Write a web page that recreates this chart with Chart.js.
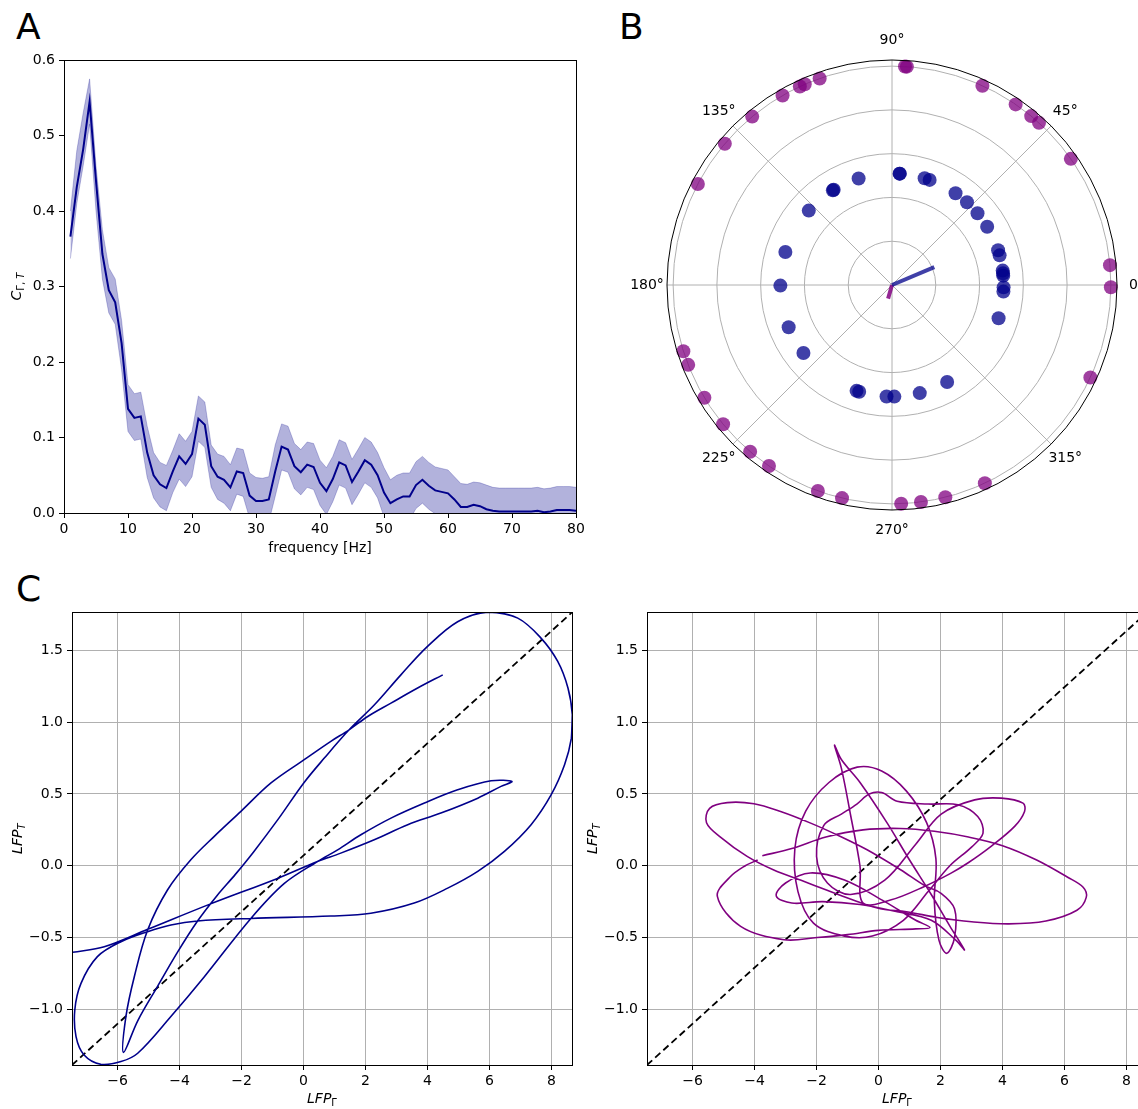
<!DOCTYPE html>
<html>
<head>
<meta charset="utf-8">
<script src="https://cdn.jsdelivr.net/npm/chart.js@4.4.1/dist/chart.umd.min.js"></script>
<style>
  html, body { margin: 0; padding: 0; background: #fff; overflow: hidden; width: 1138px; height: 1109px; }
  .panel { position: absolute; }
  .letter { position: absolute; font-family: "DejaVu Sans", sans-serif; font-size: 36px; line-height: 1; color: #000; }
</style>
</head>
<body>
<div class="letter" style="left:16px; top:9px;">A</div>
<div class="letter" style="left:619px; top:9px;">B</div>
<div class="letter" style="left:16px; top:571px;">C</div>

<canvas id="cohChart" class="panel" width="600" height="570" style="left:0; top:0;"></canvas>
<canvas id="phaseChart" class="panel" width="518" height="540" style="left:620px; top:20px;"></canvas>
<canvas id="lfpLeftChart" class="panel" width="580" height="509" style="left:0; top:600px;"></canvas>
<canvas id="lfpRightChart" class="panel" width="580" height="509" style="left:575px; top:600px;"></canvas>

<script>
// ---- Panel A: coherence spectrum ----
const freqHz = [1,2,3,4,5,6,7,8,9,10,11,12,13,14,15,16,17,18,19,20,
  21,22,23,24,25,26,27,28,29,30,31,32,33,34,35,36,37,38,39,40,
  41,42,43,44,45,46,47,48,49,50,51,52,53,54,55,56,57,58,59,60,
  61,62,63,64,65,66,67,68,69,70,71,72,73,74,75,76,77,78,79,80];
const cohMean = [0.366,0.432,0.482,0.545,0.44,0.343,0.295,0.279,0.225,0.138,
  0.126,0.128,0.08,0.05,0.038,0.033,0.055,0.075,0.065,0.078,
  0.125,0.117,0.062,0.048,0.044,0.034,0.055,0.053,0.023,0.016,
  0.016,0.018,0.055,0.088,0.084,0.062,0.054,0.064,0.061,0.04,
  0.029,0.045,0.067,0.063,0.041,0.055,0.07,0.064,0.05,0.027,
  0.013,0.018,0.022,0.022,0.037,0.044,0.036,0.03,0.028,0.026,
  0.018,0.008,0.008,0.011,0.009,0.005,0.003,0.002,0.002,0.002,
  0.002,0.002,0.002,0.003,0.001,0.002,0.004,0.004,0.004,0.003];
const cohUpper = [0.40,0.48,0.53,0.575,0.46,0.375,0.325,0.31,0.255,0.17,
  0.158,0.16,0.115,0.08,0.067,0.063,0.083,0.105,0.095,0.108,
  0.155,0.147,0.09,0.078,0.075,0.064,0.086,0.084,0.053,0.047,
  0.046,0.048,0.09,0.118,0.115,0.092,0.084,0.094,0.092,0.07,
  0.06,0.075,0.097,0.093,0.071,0.085,0.1,0.094,0.08,0.06,
  0.044,0.05,0.053,0.053,0.068,0.075,0.067,0.061,0.059,0.057,
  0.048,0.039,0.038,0.041,0.04,0.037,0.034,0.033,0.033,0.033,
  0.033,0.033,0.033,0.034,0.032,0.033,0.035,0.035,0.035,0.034];
const cohLower = [0.337,0.41,0.46,0.515,0.40,0.31,0.265,0.25,0.19,0.108,
  0.096,0.098,0.047,0.02,0.008,0.003,0.027,0.045,0.035,0.048,
  0.095,0.087,0.034,0.018,0.013,0.003,0.025,0.022,-0.007,-0.015,
  -0.015,-0.012,0.022,0.057,0.054,0.032,0.024,0.034,0.031,0.01,
  -0.002,0.015,0.037,0.033,0.011,0.025,0.04,0.034,0.02,-0.005,
  -0.018,-0.013,-0.009,-0.009,0.006,0.013,0.005,-0.001,-0.003,-0.005,
  -0.012,-0.022,-0.022,-0.019,-0.022,-0.027,-0.028,-0.03,-0.03,-0.03,
  -0.03,-0.03,-0.03,-0.03,-0.03,-0.03,-0.03,-0.03,-0.03,-0.03];

// ---- Panel B: phase angles (degrees) and radii ----
const blueAngles = [86.1,86,73,70.3,55.3,47.8,40,31.5,18.1,15.4,7.4,6,4.8,-1.2,-3.4,
  -17.3,-60.4,-75.6,-88.8,-92.8,-107.1,-108.5,-142.5,-157.8,180.3,162.8,138.2,122,121.5,107.4];
const blueRadius = 0.51;
const purpleAngles = [86.1,86.6,65.6,55.6,50.5,47.8,35.2,5.2,-0.6,-25,-64.9,-75.9,-82.4,-87.6,
  -103.2,-109.8,-124.2,-130.4,-140.5,-149,-158.6,-162.4,152.5,139.8,129.7,120,114.9,113.5,109.3];
const purpleRadius = 1.0;
const meanAngles = [23, 254];
const meanLengths = [0.21, 0.065];
const polarRings = [0.2, 0.4, 0.6, 0.8, 1.0];
const polarRmax = 1.028;
const polarSpokes = [0, 45, 90, 135, 180, 225, 270, 315];

// ---- Panel C: LFP trajectories ----
const lfpLimX = [-7.47, 8.66];
const lfpLimY = [-1.388, 1.765];
const gammaLeft = [-7.45,-6.43,-5.03,-3.04,-0.84,0.45,1.2,2.28,3.36,4.43,5.62,6.37,6.72,6.05,4.97,3.9,2.82,1.85,1.1,0.45,
  -0.62,-1.7,-3.2,-4.28,-5.35,-5.89,-6.54,-7.08,-7.34,-7.38,-7.18,-6.65,-5.89,-5.03,-4.28,-3.42,-1.7,0.88,2.17,3.57,
  4.65,5.62,6.48,7.34,7.99,8.42,8.64,8.67,8.53,8.2,7.66,6.91,5.94,4.97,4.0,3.14,2.28,1.47,0.67,0.0,
  -0.8,-1.6,-2.2,-2.8,-3.42,-4.06,-4.71,-5.35,-5.81,-5.73,-5.46,-5.03,-4.39,-3.63,-2.88,-2.02,-1.05,0.02,0.88,1.47,
  2.07,2.82,3.68,4.49];
const thetaLeft = [-0.603,-0.564,-0.443,-0.269,-0.088,0.03,0.088,0.181,0.286,0.367,0.471,0.553,0.587,0.592,0.529,0.437,0.332,0.216,0.111,0.03,
  -0.123,-0.367,-0.773,-1.05,-1.306,-1.364,-1.383,-1.318,-1.19,-1.005,-0.819,-0.633,-0.529,-0.459,-0.413,-0.385,-0.367,-0.35,-0.331,-0.26,
  -0.156,-0.039,0.1,0.286,0.495,0.703,0.889,1.052,1.238,1.423,1.586,1.725,1.767,1.70,1.528,1.33,1.12,0.947,0.75,0.575,
  0.33,0.1,-0.06,-0.21,-0.385,-0.6,-0.84,-1.08,-1.30,-1.05,-0.773,-0.448,-0.169,0.043,0.205,0.379,0.577,0.739,0.867,0.947,
  1.04,1.133,1.238,1.33];
const gammaRight = [-3.75,-2.8,-1.7,-0.5,0.7,1.8,2.9,4.0,5.1,6.1,6.6,6.7,6.4,5.4,4.2,3.0,1.9,0.9,0.06,-0.8,
  -1.66,-2.52,-3.38,-4.24,-5.1,-5.55,-5.45,-4.88,-4.02,-3.16,-2.19,-1.23,-0.37,0.71,1.5,2.0,2.45,2.45,2.2,1.95,
  1.8,1.85,1.55,0.9,0.1,-0.69,-1.6,-2.35,-2.7,-2.6,-2.1,-1.1,-0.2,0.8,1.6,2.3,3.0,3.37,3.2,2.56,
  1.6,0.6,0.1,-0.3,-0.7,-1.2,-1.77,-2.0,-1.65,-0.9,0.2,1.2,2.02,3.1,3.96,4.66,4.71,4.39,3.63,2.88,
  2.34,1.48,0.41,-0.5,-0.6,-0.9,-1.2,-1.42,-1.2,-0.58,0.28,1.0,1.7,2.3,2.77,2.5,1.7,0.6,-0.6,-1.8,
  -2.8,-3.3,-3.0,-2.2,-1.1,0.2,1.2,1.66,1.2,0.0,-1.0,-1.98,-3.05,-4.45,-5.2,-4.8,-4.3,-3.9];
const thetaRight = [0.07,0.12,0.2,0.25,0.26,0.24,0.2,0.14,0.04,-0.08,-0.15,-0.22,-0.31,-0.385,-0.405,-0.39,-0.36,-0.32,-0.3,-0.24,
  -0.17,-0.1,-0.03,0.065,0.2,0.3,0.4,0.44,0.432,0.378,0.297,0.204,0.111,-0.028,-0.14,-0.19,-0.3,-0.5,-0.61,-0.52,
  -0.25,0.05,0.3,0.52,0.66,0.687,0.58,0.38,0.12,-0.18,-0.4,-0.49,-0.49,-0.38,-0.18,0.0,0.13,0.227,0.343,0.425,
  0.43,0.45,0.51,0.5,0.43,0.36,0.28,0.064,-0.12,-0.2,-0.1,0.15,0.36,0.459,0.471,0.436,0.378,0.274,0.135,0.019,
  -0.051,-0.144,-0.237,-0.26,0.0,0.35,0.68,0.84,0.74,0.575,0.297,0.04,-0.2,-0.42,-0.586,-0.52,-0.38,-0.32,-0.27,-0.25,
  -0.26,-0.21,-0.12,-0.05,-0.1,-0.25,-0.38,-0.43,-0.44,-0.45,-0.48,-0.5,-0.515,-0.422,-0.213,-0.08,0.0,0.04];

// ---- shared look ----
const FONT = '"DejaVu Sans", sans-serif';
Chart.defaults.font.family = FONT;
Chart.defaults.font.size = 14;
Chart.defaults.color = '#000';
Chart.defaults.animation = false;

const minus = s => String(s).replace('-', '\u2212');
const pts = (xs, ys) => xs.map((x, i) => ({ x: x, y: ys[i] }));

// draws mathtext-ish label: parts = [{t, italic, sub}]
function drawParts(ctx, parts, cx, cy, rotate) {
  ctx.save();
  ctx.translate(cx, cy);
  if (rotate) ctx.rotate(-Math.PI / 2);
  const fontOf = p => `${p.italic ? 'italic ' : ''}${p.sub ? 10 : 14}px ${FONT}`;
  let total = 0;
  parts.forEach(p => { ctx.font = fontOf(p); total += ctx.measureText(p.t).width; });
  let x = -total / 2;
  ctx.fillStyle = '#000';
  ctx.textBaseline = 'middle';
  ctx.textAlign = 'left';
  parts.forEach(p => {
    ctx.font = fontOf(p);
    ctx.fillText(p.t, x, p.sub ? 4 : 0);
    x += ctx.measureText(p.t).width;
  });
  ctx.restore();
}

const framePlugin = {
  id: 'frame',
  afterDraw(chart, args, opts) {
    if (!opts || !opts.show) return;
    const { ctx, chartArea: a } = chart;
    ctx.save();
    ctx.strokeStyle = '#000';
    ctx.lineWidth = 1;
    ctx.strokeRect(Math.round(a.left) + 0.5, Math.round(a.top) + 0.5,
      Math.round(a.right - a.left), Math.round(a.bottom - a.top));
    ctx.restore();
  }
};

const labelPlugin = {
  id: 'axisLabels',
  afterDraw(chart, args, opts) {
    if (!opts || !opts.x) return;
    const { ctx, chartArea: a } = chart;
    drawParts(ctx, opts.x, (a.left + a.right) / 2, a.bottom + opts.xOffset, false);
    drawParts(ctx, opts.y, a.left - opts.yOffset, (a.top + a.bottom) / 2, true);
  }
};

Chart.register(framePlugin, labelPlugin);

const tickGrid = (showGrid) => ({
  display: true,
  drawOnChartArea: showGrid,
  drawTicks: true,
  tickLength: 5,
  tickColor: '#000',
  color: '#b0b0b0',
  lineWidth: 1
});

// ---- Panel A ----
new Chart(document.getElementById('cohChart'), {
  type: 'line',
  data: {
    datasets: [
      { data: pts(freqHz, cohLower), borderColor: 'rgba(0,0,139,0.3)', borderWidth: 0.8, pointRadius: 0, fill: false },
      { data: pts(freqHz, cohUpper), borderColor: 'rgba(0,0,139,0.3)', borderWidth: 0.8, pointRadius: 0,
        fill: '-1', backgroundColor: 'rgba(0,0,139,0.3)' },
      { data: pts(freqHz, cohMean), borderColor: '#00008b', borderWidth: 2, pointRadius: 0, fill: false }
    ]
  },
  options: {
    responsive: false,
    layout: { padding: { left: 0, top: 60, right: 24, bottom: 0 } },
    plugins: {
      legend: { display: false }, tooltip: { enabled: false },
      frame: { show: true },
      axisLabels: {
        x: [{ t: 'frequency [Hz]' }], xOffset: 35,
        y: [{ t: 'C', italic: true }, { t: '\u0393, ', sub: true }, { t: 'T', sub: true, italic: true }], yOffset: 47
      }
    },
    scales: {
      x: {
        type: 'linear', min: 0, max: 80,
        ticks: { stepSize: 10, padding: 3, maxRotation: 0 },
        grid: tickGrid(false), border: { display: false },
        afterFit: s => { s.height = 57; }
      },
      y: {
        min: 0, max: 0.6,
        ticks: { stepSize: 0.1, padding: 4, callback: v => v.toFixed(1) },
        grid: tickGrid(false), border: { display: false },
        afterFit: s => { s.width = 64; }
      }
    }
  }
});

// ---- Panel B ----
const toXY = (angles, r) => angles.map(a => ({ x: r * Math.cos(a * Math.PI / 180), y: r * Math.sin(a * Math.PI / 180) }));

const polarGridPlugin = {
  id: 'polarGrid',
  beforeDatasetsDraw(chart) {
    const { ctx, scales: { x, y } } = chart;
    const cx = x.getPixelForValue(0), cy = y.getPixelForValue(0);
    const unit = x.getPixelForValue(1) - cx;
    ctx.save();
    ctx.strokeStyle = '#b0b0b0';
    ctx.lineWidth = 1;
    polarRings.forEach(r => { ctx.beginPath(); ctx.arc(cx, cy, r * unit, 0, Math.PI * 2); ctx.stroke(); });
    polarSpokes.forEach(a => {
      const t = a * Math.PI / 180;
      ctx.beginPath(); ctx.moveTo(cx, cy);
      ctx.lineTo(cx + polarRmax * unit * Math.cos(t), cy - polarRmax * unit * Math.sin(t));
      ctx.stroke();
    });
    ctx.restore();
  },
  afterDraw(chart) {
    const { ctx, scales: { x, y } } = chart;
    const cx = x.getPixelForValue(0), cy = y.getPixelForValue(0);
    const unit = x.getPixelForValue(1) - cx;
    ctx.save();
    ctx.strokeStyle = '#000';
    ctx.lineWidth = 1;
    ctx.beginPath(); ctx.arc(cx, cy, polarRmax * unit, 0, Math.PI * 2); ctx.stroke();
    ctx.fillStyle = '#000';
    ctx.font = `14px ${FONT}`;
    ctx.textAlign = 'center';
    ctx.textBaseline = 'middle';
    const lr = polarRmax * unit + 20;
    polarSpokes.forEach(a => {
      const t = a * Math.PI / 180;
      ctx.fillText(a + '\u00b0', cx + lr * Math.cos(t), cy - lr * Math.sin(t));
    });
    ctx.restore();
  }
};

new Chart(document.getElementById('phaseChart'), {
  type: 'scatter',
  data: {
    datasets: [
      { data: toXY(blueAngles, blueRadius), backgroundColor: 'rgba(0,0,139,0.75)', borderWidth: 0, pointRadius: 7, clip: false },
      { data: toXY(purpleAngles, purpleRadius), backgroundColor: 'rgba(128,0,128,0.75)', borderWidth: 0, pointRadius: 7, clip: false },
      { data: [{ x: 0, y: 0 }].concat(toXY([meanAngles[0]], meanLengths[0])), showLine: true,
        borderColor: 'rgba(0,0,139,0.75)', borderWidth: 4, pointRadius: 0, borderCapStyle: 'butt' },
      { data: [{ x: 0, y: 0 }].concat(toXY([meanAngles[1]], meanLengths[1])), showLine: true,
        borderColor: 'rgba(128,0,128,0.85)', borderWidth: 4, pointRadius: 0, borderCapStyle: 'butt' }
    ]
  },
  options: {
    responsive: false,
    layout: { padding: { left: 47, top: 40, right: 21, bottom: 50 } },
    plugins: { legend: { display: false }, tooltip: { enabled: false } },
    scales: {
      x: { type: 'linear', display: false, min: -polarRmax, max: polarRmax },
      y: { type: 'linear', display: false, min: -polarRmax, max: polarRmax }
    }
  },
  plugins: [polarGridPlugin]
});

// ---- Panel C ----
function lfpChart(id, xs, ys, color) {
  return new Chart(document.getElementById(id), {
    type: 'scatter',
    data: {
      datasets: [
        { data: pts(xs, ys), showLine: true, borderColor: color, borderWidth: 1.6, pointRadius: 0, tension: 0.35 },
        { data: pts(lfpLimX, lfpLimY), showLine: true, borderColor: '#000', borderWidth: 1.8,
          borderDash: [7, 4], pointRadius: 0 }
      ]
    },
    options: {
      responsive: false,
      layout: { padding: { left: 0, top: 12, right: 8, bottom: 0 } },
      plugins: {
        legend: { display: false }, tooltip: { enabled: false },
        frame: { show: true },
        axisLabels: {
          x: [{ t: 'LFP', italic: true }, { t: '\u0393', sub: true }], xOffset: 34,
          y: [{ t: 'LFP', italic: true }, { t: 'T', sub: true, italic: true }], yOffset: 54
        }
      },
      scales: {
        x: {
          type: 'linear', min: lfpLimX[0], max: lfpLimX[1],
          ticks: { stepSize: 2, includeBounds: false, padding: 3, maxRotation: 0, callback: v => minus(v) },
          grid: tickGrid(true), border: { display: false },
          afterFit: s => { s.height = 44; }
        },
        y: {
          type: 'linear', min: lfpLimY[0], max: lfpLimY[1],
          ticks: { stepSize: 0.5, includeBounds: false, padding: 4, callback: v => minus(v.toFixed(1)) },
          grid: tickGrid(true), border: { display: false },
          afterFit: s => { s.width = 72; }
        }
      }
    }
  });
}

lfpChart('lfpLeftChart', gammaLeft, thetaLeft, '#00008b');
lfpChart('lfpRightChart', gammaRight, thetaRight, '#800080');
</script>
</body>
</html>
